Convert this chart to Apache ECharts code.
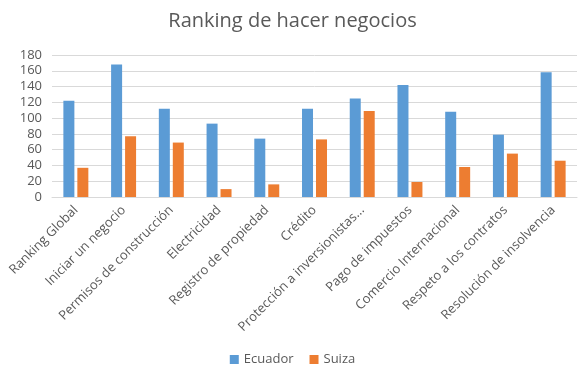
<!DOCTYPE html>
<html><head><meta charset="utf-8">
<script src="https://cdn.jsdelivr.net/npm/echarts@6/dist/echarts.min.js"></script>
<style>html,body{margin:0;padding:0;background:#fff}#c{width:585px;height:371px}</style>
</head><body><div id="c"></div>
<script>
const categories = ["Ranking Global","Iniciar un negocio","Permisos de construcción","Electricidad","Registro de propiedad","Crédito","Protección a inversionistas...","Pago de impuestos","Comercio Internacional","Respeto a los contratos","Resolución de insolvencia"];
const ecuador = [122,168,112,93,74,112,125,142,108,79,158];
const suiza = [37,77,69,10,16,73,109,19,38,55,46];
const yTicks = [0,20,40,60,80,100,120,140,160,180];
const font = "'Open Sans', sans-serif";
const chart = echarts.init(document.getElementById('c'), null, {renderer:'canvas'});
chart.setOption({
  animation:false,
  title:{text:"Ranking de hacer negocios",left:'center',top:6,textStyle:{fontFamily:font,fontSize:20,fontWeight:'normal',color:'#595959'}},
  legend:{data:["Ecuador","Suiza"],bottom:0,left:'center',itemWidth:9,itemHeight:9,itemGap:16,icon:'rect',textStyle:{fontFamily:font,fontSize:13,color:'#595959'}},
  grid:{left:52,right:8,top:55,bottom:174,containLabel:false},
  xAxis:{type:'category',data:categories,axisTick:{show:false},axisLine:{lineStyle:{color:'#d9d9d9'}},
    axisLabel:{rotate:45,interval:0,margin:11,fontFamily:font,fontSize:13,color:'#595959'}},
  yAxis:{type:'value',min:0,max:180,interval:20,splitLine:{lineStyle:{color:'#d9d9d9'}},axisLine:{show:false},axisTick:{show:false},
    axisLabel:{fontFamily:font,fontSize:13,color:'#595959',margin:10,formatter:v=>yTicks.includes(v)?String(v):''}},
  series:[
    {name:"Ecuador",type:'bar',data:ecuador,barWidth:11,barGap:'27%',itemStyle:{color:'#5B9BD5'}},
    {name:"Suiza",type:'bar',data:suiza,barWidth:11,barGap:'27%',itemStyle:{color:'#ED7D31'}}
  ]
});
</script></body></html>
